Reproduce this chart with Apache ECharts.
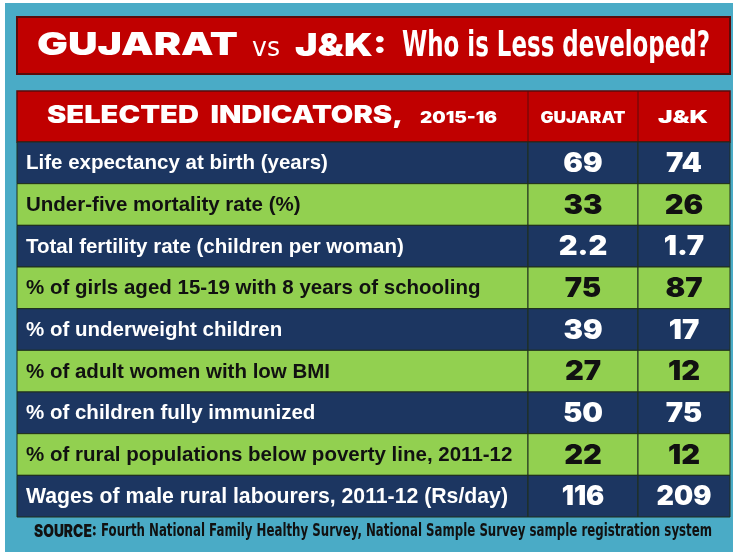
<!DOCTYPE html>
<html>
<head>
<meta charset="utf-8">
<script src="https://cdn.jsdelivr.net/npm/echarts@6/dist/echarts.min.js"></script>
<style>
html, body { margin: 0; padding: 0; background: #fff; }
#chart { width: 739px; height: 560px; }
</style>
</head>
<body>
<div id="chart"></div>
<script>
var indicators = [
	'Life expectancy at birth (years)',
	'Under-five mortality rate (%)',
	'Total fertility rate (children per woman)',
	'% of girls aged 15-19 with 8 years of schooling',
	'% of underweight children',
	'% of adult women with low BMI',
	'% of children fully immunized',
	'% of rural populations below poverty line, 2011-12',
	'Wages of male rural labourers, 2011-12 (Rs/day)'
];
var gujarat = [69, 33, 2.2, 75, 39, 27, 50, 22, 116];
var jk = [74, 26, 1.7, 87, 17, 12, 75, 12, 209];
var columns = ['GUJARAT', 'J&K'];
var headerTitle = 'SELECTED  INDICATORS,';
var headerYear = '2015-16';
var sourceLabel = 'SOURCE:';
var sourceText = 'Fourth National Family Healthy Survey, National Sample Survey sample registration system';

var navy = '#1c3661', green = '#92d050', red = '#c00000', teal = '#4aabc6';
var heavy = 'Inter, "DejaVu Sans", sans-serif';
var plain = '"DejaVu Sans", sans-serif';
var arial = '"Liberation Sans", Arial, sans-serif';

// squeeze or stretch a text to the width it has in the picture
var ctx = document.createElement('canvas').getContext('2d');
function fit(text, font, width) {
	ctx.font = font;
	return width / ctx.measureText(text).width;
}

function txt(text, font, x, y, width, align, fill) {
	return {
		type: 'text', x: x, y: y, scaleX: width ? fit(text, font, width) : 1,
		style: {
			text: text, x: 0, y: 0, font: font, fill: fill || '#fff',
			align: align || 'left', textAlign: align || 'left',
			verticalAlign: 'middle', textVerticalAlign: 'middle'
		}
	};
}

function drawCell(params, api) {
	var i = params.dataIndex;
	var c = api.coord([0, i]);
	var s = api.size([1, 1]);
	var w = s[0], h = s[1];
	var dark = i % 2 === 0;
	var last = i === indicators.length - 1;
	var isLabel = params.seriesId === 'label';
	var label, font, scale = 1, x;
	if (isLabel) {
		label = indicators[i];
		x = c[0] - w / 2 + 9;
		font = last ? 'bold 22px ' + arial : 'bold 20.5px ' + arial;
		if (last) scale = fit(label, font, 482);
	} else {
		label = String(api.value(2));
		x = c[0];
		font = '900 27px ' + heavy;
		scale = last ? 1.0 : 1.08;
	}
	return {
		type: 'group',
		children: [{
			type: 'rect',
			shape: { x: c[0] - w / 2, y: c[1] - h / 2, width: w, height: h },
			style: { fill: dark ? navy : green, stroke: '#1f2f1c', lineWidth: 1 }
		}, {
			type: 'text', x: x, y: c[1] + 1, scaleX: scale,
			style: {
				text: label, x: 0, y: 0,
				align: isLabel ? 'left' : 'center', textAlign: isLabel ? 'left' : 'center',
				verticalAlign: 'middle', textVerticalAlign: 'middle',
				fill: dark ? '#fff' : '#111', font: font
			}
		}]
	};
}

var grids = [
	{ left: 17, top: 142, width: 511, height: 375 },
	{ left: 528, top: 142, width: 110, height: 375 },
	{ left: 638, top: 142, width: 92, height: 375 }
];

var chart = echarts.init(document.getElementById('chart'));
chart.setOption({
	backgroundColor: '#fff',
	animation: false,
	grid: grids,
	xAxis: grids.map(function (g, k) {
		return { type: 'category', gridIndex: k, data: ['c'], show: false };
	}),
	yAxis: grids.map(function (g, k) {
		return { type: 'category', gridIndex: k, data: indicators, inverse: true, show: false };
	}),
	graphic: [
		{ type: 'rect', z: -10, shape: { x: 5, y: 3, width: 728, height: 549 }, style: { fill: teal } },
		{ type: 'rect', shape: { x: 17, y: 17, width: 713, height: 57 }, style: { fill: red, stroke: '#5c0a0a', lineWidth: 2 } },
		txt('GUJARAT', '900 32px ' + heavy, 37, 45, 201),
		txt('vs', '27px ' + plain, 252, 49, 28),
		txt('J&K:', '900 32px ' + heavy, 295, 46, 92),
		txt('Who is Less developed?', 'bold 36px ' + plain, 402, 47, 308),
		{ type: 'rect', shape: { x: 17, y: 91, width: 713, height: 51 }, style: { fill: red, stroke: '#5c0a0a', lineWidth: 1.5 } },
		{ type: 'line', shape: { x1: 528, y1: 91, x2: 528, y2: 142 }, style: { stroke: '#5c0a0a', lineWidth: 1 } },
		{ type: 'line', shape: { x1: 638, y1: 91, x2: 638, y2: 142 }, style: { stroke: '#5c0a0a', lineWidth: 1 } },
		txt(headerTitle, '900 24px ' + heavy, 47, 116, 356),
		txt(headerYear, '900 16px ' + heavy, 420, 118, 77),
		txt(columns[0], '900 16px ' + heavy, 583, 118, 85, 'center'),
		txt(columns[1], '900 18px ' + heavy, 683, 118, 50, 'center'),
		txt(sourceLabel, '900 17px ' + heavy, 34, 532, 63, 'left', '#111'),
		txt(sourceText, 'bold 17px ' + plain, 101, 532, 611, 'left', '#111')
	],
	series: [
		{ id: 'label', type: 'custom', xAxisIndex: 0, yAxisIndex: 0, renderItem: drawCell,
			data: indicators.map(function (n, i) { return [0, i]; }) },
		{ id: 'gujarat', type: 'custom', xAxisIndex: 1, yAxisIndex: 1, renderItem: drawCell,
			data: gujarat.map(function (v, i) { return [0, i, v]; }) },
		{ id: 'jk', type: 'custom', xAxisIndex: 2, yAxisIndex: 2, renderItem: drawCell,
			data: jk.map(function (v, i) { return [0, i, v]; }) }
	]
});
</script>
</body>
</html>
